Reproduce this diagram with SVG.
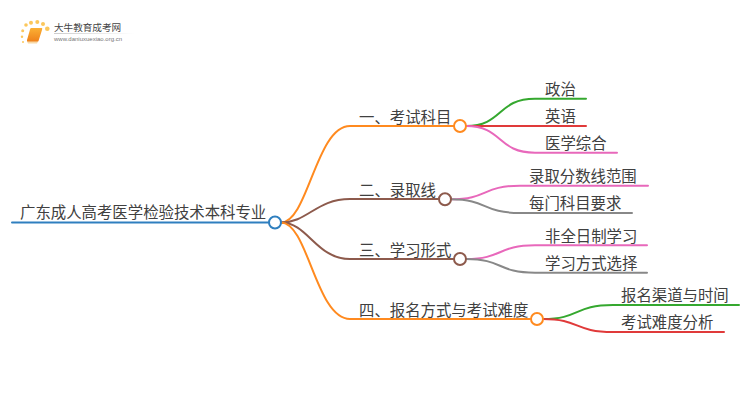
<svg xmlns="http://www.w3.org/2000/svg" width="750" height="410" viewBox="0 0 750 410">
<style>
.t{font-family:"Noto Sans CJK SC","Noto Sans",sans-serif;font-size:15.4px;fill:#404040}
.c{fill:none;stroke-width:2;stroke-linecap:round}
.n{fill:#fff;stroke-width:2}
</style>
<defs><linearGradient id="fade"><stop offset="0" stop-color="#ccc"/><stop offset="1" stop-color="#fff"/></linearGradient>
<linearGradient id="bk" x1="0" y1="0" x2="0" y2="1"><stop offset="0" stop-color="#fbb034"/><stop offset="1" stop-color="#ee7f1a"/></linearGradient></defs>
<rect width="750" height="410" fill="#fff"/>
<g id="logo">
<g fill="#fbc75c"><circle cx="22.700" cy="30.700" r="1.500"/><circle cx="26" cy="25" r="1.800"/><circle cx="31" cy="22.700" r="2"/><circle cx="37.300" cy="22" r="2"/><circle cx="43" cy="24" r="2"/><circle cx="47.300" cy="28.700" r="2.300"/><circle cx="22" cy="36.700" r="1.200"/><circle cx="23" cy="42" r="1"/></g>
<path d="M31 28H42Q42.500 28 42 30L38.500 41Q38 42 37 42H28Q26.500 42 27 40L30 29.500Q30.300 28 31 28Z" fill="url(#bk)"/><path d="M27 41.500H38L37 43.500H28Z" fill="#f7d9a8"/>
<text x="54" y="31" style="font-family:'Noto Sans CJK SC',sans-serif;font-size:9.600px;fill:#444">大牛教育成考网</text>
<rect x="54" y="33" width="80" height="1" fill="url(#fade)"/>
<text x="54" y="41" style="font-family:'Liberation Sans',sans-serif;font-size:6px;fill:#777">www.daniuxuexiao.org.cn</text>
</g>
<g id="connectors">
<path class="c" stroke="#2f7fbf" d="M12 222.500H269"/>
<path class="c" stroke="#ff8a1f" d="M281 222.500C308 222.500 316 126 350 126H454"/>
<path class="c" stroke="#8d5a4c" d="M281 222.500C308 222.500 316 199 350 199H438"/>
<path class="c" stroke="#8d5a4c" d="M281 222.500C308 222.500 316 259 350 259H454"/>
<path class="c" stroke="#ff8a1f" d="M281 222.500C308 222.500 316 319 350 319H530"/>
<path class="c" stroke="#35a82f" d="M466 126C503 126 497 98.700 535 98.700H586"/>
<path class="c" stroke="#e03a3a" d="M466 126H586"/>
<path class="c" stroke="#e868bb" d="M466 126C503 126 497 152.700 535 152.700H617"/>
<path class="c" stroke="#e868bb" d="M451 199.300C488 199.300 482 185.700 520 185.700H648"/>
<path class="c" stroke="#888" d="M451 199.300C488 199.300 482 213 520 213H632"/>
<path class="c" stroke="#e868bb" d="M466 259C503 259 497 245.300 535 245.300H647"/>
<path class="c" stroke="#888" d="M466 259C503 259 497 272.700 535 272.700H647"/>
<path class="c" stroke="#35a82f" d="M543 319C580 319 574 305 613 305H739"/>
<path class="c" stroke="#e03a3a" d="M543 319C580 319 574 332 613 332H724"/>
</g>
<g id="root"><circle class="n" stroke="#2f7fbf" cx="275" cy="222.500" r="6"/><text class="t" x="20" y="218">广东成人高考医学检验技术本科专业</text></g>
<g id="b1"><circle class="n" stroke="#ff8a1f" cx="460" cy="126" r="6"/><text class="t" x="359" y="122.500">一、考试科目</text></g>
<g id="b2"><circle class="n" stroke="#8d5a4c" cx="445" cy="199.300" r="6"/><text class="t" x="359" y="195.500">二、录取线</text></g>
<g id="b3"><circle class="n" stroke="#8d5a4c" cx="460" cy="259" r="6"/><text class="t" x="359" y="255.500">三、学习形式</text></g>
<g id="b4"><circle class="n" stroke="#ff8a1f" cx="537" cy="319" r="6"/><text class="t" x="359" y="315.500">四、报名方式与考试难度</text></g>
<g id="l1"><text class="t" x="545" y="94.500">政治</text></g>
<g id="l2"><text class="t" x="545" y="122">英语</text></g>
<g id="l3"><text class="t" x="545" y="148.500">医学综合</text></g>
<g id="l4"><text class="t" x="529" y="181.500">录取分数线范围</text></g>
<g id="l5"><text class="t" x="529" y="208.500">每门科目要求</text></g>
<g id="l6"><text class="t" x="545" y="241.500">非全日制学习</text></g>
<g id="l7"><text class="t" x="545" y="268.500">学习方式选择</text></g>
<g id="l8"><text class="t" x="621" y="301">报名渠道与时间</text></g>
<g id="l9"><text class="t" x="621" y="328">考试难度分析</text></g>
</svg>
